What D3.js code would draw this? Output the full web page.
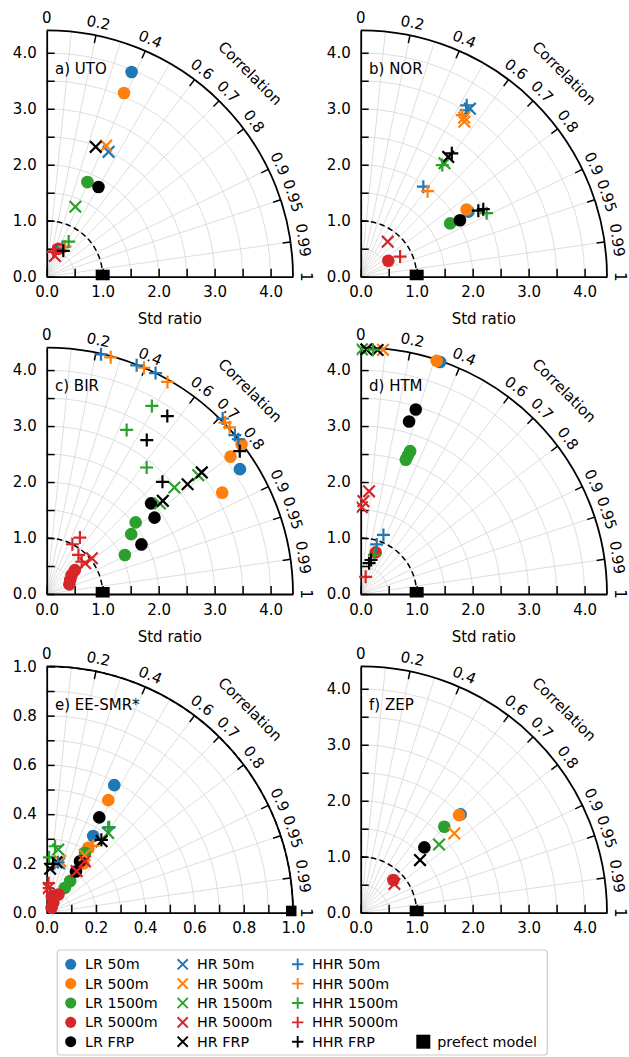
<!DOCTYPE html>
<html><head><meta charset="utf-8">
<script src="https://cdn.jsdelivr.net/npm/d3@7"></script>
<style>body{margin:0;background:#fff} svg{display:block} text{font-family:"DejaVu Sans",sans-serif;fill:#000}</style>
</head><body><svg id="chart" width="629" height="1057"></svg>
<script>
// ---------------- data ----------------
const seriesNames = ["LR 50m","LR 500m","LR 1500m","LR 5000m","LR FRP",
                     "HR 50m","HR 500m","HR 1500m","HR 5000m","HR FRP",
                     "HHR 50m","HHR 500m","HHR 1500m","HHR 5000m","HHR FRP"];
const seriesColors = ["#1f77b4","#ff7f0e","#2ca02c","#d62728","#000000",
                      "#1f77b4","#ff7f0e","#2ca02c","#d62728","#000000",
                      "#1f77b4","#ff7f0e","#2ca02c","#d62728","#000000"];
const seriesMarkers = ["circle","circle","circle","circle","circle",
                       "x","x","x","x","x",
                       "plus","plus","plus","plus","plus"];
const panelTitles = ["a) UTO","b) NOR","c) BIR","d) HTM","e) EE-SMR*","f) ZEP"];
const panelMaxStd = [4.4, 4.4, 4.4, 4.4, 1.0, 4.4];
const stdTickStep = [0.5, 0.5, 0.5, 0.5, 0.1, 0.5];
const stdLabelStep = [1.0, 1.0, 1.0, 1.0, 0.2, 1.0];
const corrTickLabels = [0, 0.2, 0.4, 0.6, 0.7, 0.8, 0.9, 0.95, 0.99, 1];
const corrGridValues = [0.1,0.2,0.3,0.4,0.5,0.6,0.7,0.8,0.9,0.95,0.99];
const refStd = 1.0;
const refLabel = "prefect model";

// [series, std ratio, correlation]
const dataUTO = [
  ["LR 50m",3.96,0.383],["LR 500m",3.56,0.388],["LR 1500m",1.84,0.395],["LR 5000m",0.54,0.385],["LR FRP",1.85,0.50],
  ["HR 50m",2.49,0.444],["HR 500m",2.57,0.413],["HR 1500m",1.35,0.379],["HR 5000m",0.40,0.367],["HR FRP",2.48,0.353],
  ["HHR 50m",0.60,0.47],["HHR 500m",0.63,0.52],["HHR 1500m",0.74,0.53],["HHR 5000m",0.46,0.256],["HHR FRP",0.55,0.54]
];
const dataNOR = [
  ["LR 50m",2.25,0.856],["LR 500m",2.24,0.844],["LR 1500m",1.86,0.859],["LR 5000m",0.57,0.865],["LR FRP",2.04,0.869],
  ["HR 50m",3.58,0.545],["HR 500m",3.33,0.556],["HR 500m",3.39,0.545],["HR 1500m",2.52,0.594],["HR 5000m",0.79,0.611],["HR FRP",2.65,0.590],
  ["HHR 50m",3.60,0.526],["HHR 50m",3.52,0.535],["HHR 50m",1.96,0.571],["HHR 500m",3.41,0.532],["HHR 500m",1.94,0.616],
  ["HHR 1500m",2.47,0.590],["HHR 1500m",2.52,0.893],["HHR 5000m",0.79,0.891],
  ["HHR FRP",2.74,0.594],["HHR FRP",2.41,0.872],["HHR FRP",2.50,0.876]
];
const dataBIR = [
  ["LR 50m",4.11,0.840],
  ["LR 500m",4.39,0.793],["LR 500m",4.10,0.801],["LR 500m",3.62,0.866],
  ["LR 1500m",2.04,0.779],["LR 1500m",1.85,0.816],["LR 1500m",1.56,0.895],
  ["LR 5000m",0.66,0.763],["LR 5000m",0.56,0.796],["LR 5000m",0.49,0.858],["LR 5000m",0.44,0.92],
  ["LR FRP",2.47,0.755],["LR FRP",2.36,0.816],["LR FRP",1.91,0.886],
  ["HR 1500m",3.44,0.787],["HR 1500m",2.97,0.768],["HR 1500m",2.59,0.781],
  ["HR 5000m",1.03,0.784],["HR 5000m",0.88,0.781],
  ["HR FRP",3.52,0.787],["HR FRP",3.19,0.789],["HR FRP",2.66,0.780],
  ["HHR 50m",4.39,0.221],["HHR 50m",4.39,0.366],["HHR 50m",4.40,0.442],["HHR 50m",4.44,0.708],["HHR 50m",4.40,0.764],["HHR 50m",4.40,0.778],
  ["HHR 500m",4.38,0.261],["HHR 500m",4.40,0.395],["HHR 500m",4.36,0.495],["HHR 500m",4.42,0.721],["HHR 500m",4.42,0.739],
  ["HHR 1500m",3.85,0.488],["HHR 1500m",3.26,0.438],["HHR 1500m",2.88,0.620],
  ["HHR 5000m",1.17,0.507],["HHR 5000m",1.00,0.459],["HHR 5000m",0.90,0.63],["HHR 5000m",0.85,0.735],
  ["HHR FRP",3.84,0.561],["HHR FRP",3.28,0.545],["HHR FRP",2.88,0.718],["HHR FRP",4.29,0.804]
];
const dataHTM = [
  ["LR 50m",4.38,0.324],["LR 500m",4.38,0.310],
  ["LR 1500m",2.70,0.327],["LR 1500m",2.61,0.322],["LR 1500m",2.53,0.318],
  ["LR 5000m",0.79,0.339],
  ["LR FRP",3.44,0.286],["LR FRP",3.20,0.270],
  ["HR 500m",4.38,0.091],["HR 1500m",4.37,0.005],
  ["HR 5000m",1.84,0.081],["HR 5000m",1.66,0.029],["HR 5000m",1.55,0.013],
  ["HR FRP",4.37,0.023],["HR FRP",4.37,0.069],
  ["HHR 50m",1.13,0.359],["HHR 50m",0.93,0.307],
  ["HHR 1500m",4.37,0.05],["HHR 1500m",0.74,0.331],
  ["HHR 5000m",0.32,0.277],
  ["HHR FRP",0.635,0.291],["HHR FRP",0.57,0.262]
];
const dataEESMR = [
  ["LR 50m",0.586,0.468],["LR 50m",0.364,0.519],
  ["LR 500m",0.521,0.480],["LR 500m",0.313,0.539],["LR 500m",0.249,0.598],
  ["LR 1500m",0.289,0.538],["LR 1500m",0.160,0.595],["LR 1500m",0.125,0.59],
  ["LR 5000m",0.088,0.54],["LR 5000m",0.076,0.44],["LR 5000m",0.049,0.55],["LR 5000m",0.028,0.71],["LR 5000m",0.07,0.30],
  ["LR FRP",0.442,0.483],["LR FRP",0.249,0.543],["LR FRP",0.205,0.58],
  ["HR 50m",0.206,0.243],
  ["HR 500m",0.217,0.253],["HR 500m",0.28,0.55],
  ["HR 1500m",0.261,0.180],["HR 1500m",0.409,0.611],
  ["HR 5000m",0.260,0.597],["HR 5000m",0.208,0.585],["HR 5000m",0.10,0.07],
  ["HR FRP",0.209,0.191],["HR FRP",0.179,0.078],["HR FRP",0.366,0.609],
  ["HHR 50m",0.426,0.587],["HHR 50m",0.21,0.22],
  ["HHR 500m",0.33,0.57],
  ["HHR 1500m",0.272,0.125],["HHR 1500m",0.225,0.044],["HHR 1500m",0.43,0.59],
  ["HHR 5000m",0.12,0.06],["HHR 5000m",0.10,0.02],
  ["HHR FRP",0.37,0.60],["HHR FRP",0.20,0.13]
];
const dataZEP = [
  ["LR 50m",2.505,0.713],["LR 500m",2.475,0.710],["LR 1500m",2.143,0.697],["LR 5000m",0.825,0.707],["LR FRP",1.629,0.698],
  ["HR 500m",2.192,0.763],["HR 1500m",1.856,0.754],["HR 5000m",0.79,0.761],["HR FRP",1.417,0.748]
];
const panelData = [dataUTO, dataNOR, dataBIR, dataHTM, dataEESMR, dataZEP];

// ---------------- layout ----------------
const svg = d3.select("#chart");
const R = 246.3;
const originsX = [46.7, 360.7];
const originsY = [276.7, 594, 912.7];
const FS = 15;

function arcPath(rr){ return `M${rr},0A${rr},${rr} 0 0 0 0,${-rr}`; }

function markerPath(type, s){
  if (type === "x") return `M${-s},${-s}L${s},${s}M${-s},${s}L${s},${-s}`;
  return `M${-s},0H${s}M0,${-s}V${s}`;
}

function drawMarker(g, type, color, x, y, scale){
  scale = scale || 1;
  if (type === "circle") {
    g.append("circle").attr("cx", x).attr("cy", y).attr("r", 6.3*scale).attr("fill", color);
  } else if (type === "x") {
    g.append("path").attr("transform", `translate(${x},${y})`).attr("d", markerPath("x", 5.8*scale))
      .attr("stroke", color).attr("stroke-width", 2.2*scale).attr("fill", "none");
  } else {
    g.append("path").attr("transform", `translate(${x},${y})`).attr("d", markerPath("plus", 6.5*scale))
      .attr("stroke", color).attr("stroke-width", 2.2*scale).attr("fill", "none");
  }
}

function stepValues(max, step){
  const n = Math.floor(max/step + 1e-6);
  return d3.range(0, n+1).map(i => +(i*step).toFixed(4));
}

const defs = svg.append("defs");
defs.append("clipPath").attr("id", "panelClip").append("rect")
  .attr("x", -4).attr("y", -R - 12).attr("width", R + 7.5).attr("height", R + 15.5);

panelData.forEach((data, p) => {
  const ox = originsX[p % 2], oy = originsY[Math.floor(p/2)];
  const rmax = panelMaxStd[p], step = stdTickStep[p], lstep = stdLabelStep[p];
  const g = svg.append("g").attr("transform", `translate(${ox},${oy})`);
  const r = d3.scaleLinear().domain([0, rmax]).range([0, R]);
  const yS = d3.scaleLinear().domain([0, rmax]).range([0, -R]);
  const tickVals = stepValues(rmax, step);
  const isMajor = v => Math.abs(v/lstep - Math.round(v/lstep)) < 1e-6;
  const fmt = d3.format(".1f");

  // grid arcs
  tickVals.filter(v => v > 0 && r(v) < R - 1).forEach(v => {
    g.append("path").attr("d", arcPath(r(v))).attr("fill","none").attr("stroke","#d5d5d5").attr("stroke-width",0.8);
  });
  // radial grid
  corrGridValues.forEach(c => {
    const a = Math.acos(c);
    g.append("line").attr("x1",0).attr("y1",0).attr("x2", R*Math.cos(a)).attr("y2", -R*Math.sin(a))
      .attr("stroke","#d5d5d5").attr("stroke-width",0.8);
  });
  // reference dashed arc
  g.append("path").attr("d", arcPath(r(refStd))).attr("fill","none").attr("stroke","#000")
    .attr("stroke-width",1.5).attr("stroke-dasharray","5.5,3.5");

  // outer arc
  g.append("path").attr("d", arcPath(R)).attr("fill","none").attr("stroke","#000").attr("stroke-width",1.8);

  // axes
  const ay = g.append("g").call(d3.axisLeft(yS).tickValues(tickVals).tickSize(-8).tickSizeOuter(0).tickPadding(10)
      .tickFormat(v => isMajor(v) ? fmt(v) : ""));
  const ax = g.append("g").call(d3.axisBottom(r).tickValues(tickVals).tickSize(-8).tickSizeOuter(0).tickPadding(10)
      .tickFormat(v => isMajor(v) ? fmt(v) : ""));
  [ay, ax].forEach(a => {
    a.attr("font-family", null).attr("font-size", null);
    a.selectAll("text").attr("font-size", FS).attr("fill","#000");
    a.selectAll("line").attr("stroke","#000").attr("stroke-width",1.5);
    a.select(".domain").attr("stroke","#000").attr("stroke-width",1.8);
  });

  // correlation ticks & labels
  corrTickLabels.forEach(c => {
    const a = Math.acos(c);
    const cs = Math.cos(a), sn = Math.sin(a);
    if (c > 0 && c < 1) {
      g.append("line").attr("x1", R*cs).attr("y1", -R*sn).attr("x2", (R-8)*cs).attr("y2", -(R-8)*sn)
        .attr("stroke","#000").attr("stroke-width",1.5);
    }
    const lr = 259;
    g.append("text").attr("transform", `translate(${lr*cs},${-lr*sn}) rotate(${90 - a*180/Math.PI})`)
      .attr("text-anchor","middle").attr("dominant-baseline","central").attr("font-size", FS)
      .text(String(c));
  });
  g.append("text").attr("transform", `translate(${287.6*Math.cos(Math.PI/4)},${-287.6*Math.sin(Math.PI/4)}) rotate(45)`)
    .attr("text-anchor","middle").attr("dominant-baseline","central").attr("font-size", FS).text("Correlation");

  // axis title (bottom row's is hidden behind the legend in the reference)
  if (p < 4) g.append("text").attr("x", R/2).attr("y", 47.5).attr("text-anchor","middle").attr("font-size", FS).text("Std ratio");

  // panel title
  g.append("text").attr("x", 8.3).attr("y", -202.7).attr("font-size", FS).text(panelTitles[p]);

  // points, in series order
  const pts = data.slice().sort((a, b) => seriesNames.indexOf(a[0]) - seriesNames.indexOf(b[0]));
  const mg = g.append("g").attr("clip-path", "url(#panelClip)");
  pts.forEach(([s, sd, c]) => {
    const i = seriesNames.indexOf(s);
    const a = Math.acos(c);
    drawMarker(mg, seriesMarkers[i], seriesColors[i], r(sd)*Math.cos(a), -r(sd)*Math.sin(a));
  });

  // perfect model
  mg.append("rect").attr("x", r(refStd) - 7).attr("y", -7).attr("width", 14).attr("height", 14).attr("fill","#000");
});

// ---------------- legend ----------------
const lg = svg.append("g");
lg.append("rect").attr("x", 57.3).attr("y", 950).attr("width", 490).attr("height", 105).attr("rx", 3)
  .attr("fill", "#fff").attr("stroke", "#cccccc").attr("stroke-width", 1.2);
const colMarkerX = [70.7, 182.7, 297.7];
const rowY = d3.range(5).map(i => 964.3 + i*19.35);
seriesNames.forEach((s, i) => {
  const col = Math.floor(i/5), row = i % 5;
  drawMarker(lg, seriesMarkers[i], seriesColors[i], colMarkerX[col], rowY[row], 0.88);
  lg.append("text").attr("x", colMarkerX[col] + 14.3).attr("y", rowY[row]).attr("dominant-baseline","central")
    .attr("font-size", 14.3).text(s);
});
lg.append("rect").attr("x", 423.3 - 7).attr("y", rowY[4] - 7).attr("width", 14).attr("height", 14).attr("fill", "#000");
lg.append("text").attr("x", 437.3).attr("y", rowY[4]).attr("dominant-baseline","central").attr("font-size", 14.3).text(refLabel);
</script></body></html>
